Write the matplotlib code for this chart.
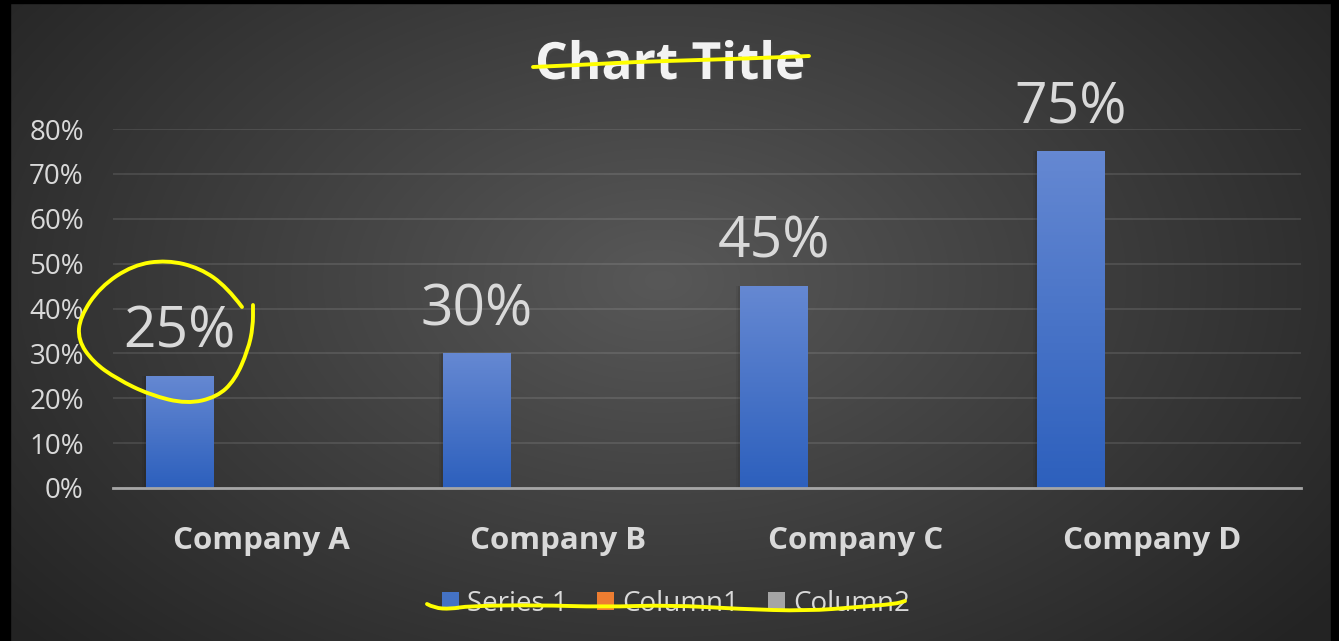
import numpy as np
import matplotlib
matplotlib.use("Agg")
import matplotlib.pyplot as plt
from matplotlib.patches import Rectangle, PathPatch
from matplotlib.path import Path
from matplotlib.colors import LinearSegmentedColormap
import matplotlib.patheffects as pe

# chart data
categories = ["Company A", "Company B", "Company C", "Company D"]
series_1 = [0.25, 0.30, 0.45, 0.75]
column1 = [0, 0, 0, 0]
column2 = [0, 0, 0, 0]
series_names = ["Series 1", "Column1", "Column2"]
y_ticks = [0, 0.1, 0.2, 0.3, 0.4, 0.5, 0.6, 0.7, 0.8]

W, H = 1339, 641
plt.rcParams['font.family'] = ['Open Sans', 'DejaVu Sans']
fig = plt.figure(figsize=(W / 100, H / 100), dpi=100)

# dark radial background
bg = fig.add_axes([0, 0, 1, 1], zorder=-10)
yy, xx = np.mgrid[0:H, 0:W]
d = np.sqrt(((xx - 660) / 820.0) ** 2 + ((yy - 280) / 520.0) ** 2)
shade = np.clip(0.345 - 0.2 * d, 0.14, 1)
bg.imshow(np.dstack([shade] * 3), extent=[0, W, H, 0], aspect='auto')
bg.set_xlim(0, W)
bg.set_ylim(H, 0)
bg.axis('off')
# black frame of the screenshot
bg.add_patch(Rectangle((0, 0), 10, H, color='black'))
bg.add_patch(Rectangle((0, 0), W, 3, color='black'))
bg.add_patch(Rectangle((1331, 0), 8, H, color='black'))

ax = fig.add_axes([113 / W, 1 - 488 / H, 1188 / W, 359 / H])
ax.set_facecolor('none')

x = np.arange(len(categories))
bw = 0.226
off = 0.276
bars = ax.bar(x - off, series_1, bw, color='#4472c4', label=series_names[0], zorder=3)
ax.bar(x, column1, bw, color='#ed7d31', label=series_names[1], zorder=3)
ax.bar(x + off, column2, bw, color='#a5a5a5', label=series_names[2], zorder=3)

grad = LinearSegmentedColormap.from_list('bar', ['#2d60bd', '#6588d2'])
for b in bars:
    x0, y0 = b.get_x(), b.get_y()
    w, h = b.get_width(), b.get_height()
    for k, a in [(0.014, 0.06), (0.008, 0.08)]:
        ax.add_patch(Rectangle((x0 - k, y0), w + k, h, color='black', alpha=a, zorder=2, lw=0))
    im = ax.imshow(np.linspace(0, 1, 100).reshape(-1, 1), cmap=grad, origin='lower',
                   extent=[x0, x0 + w, y0, y0 + h], aspect='auto', zorder=4)
    im.set_clip_path(b)
    ax.text(x0 + w / 2, h + 0.032, f"{h:.0%}", ha='center', va='bottom',
            fontsize=41, color='#d9d9d9', zorder=5, clip_on=False)

ax.set_xlim(-0.5, 3.5)
ax.set_ylim(0, 0.8)
ax.set_yticks(y_ticks)
ax.set_yticklabels([f"{t:.0%}" for t in y_ticks])
ax.set_xticks(x)
ax.set_xticklabels(categories, fontweight='bold')
ax.tick_params(axis='y', length=0, pad=21, labelsize=20, labelcolor='#d9d9d9')
ax.tick_params(axis='x', length=0, pad=27, labelsize=22.5, labelcolor='#d9d9d9')
ax.grid(axis='y', color='white', alpha=0.1, lw=1.5, zorder=0)
for s in ['top', 'right', 'left']:
    ax.spines[s].set_visible(False)
ax.spines['bottom'].set_color('#a6a6a6')
ax.spines['bottom'].set_linewidth(2)
ax.spines['bottom'].set_zorder(6)

fig.text(670 / W, 1 - 66 / H, "Chart Title", ha='center', va='center', fontsize=37,
         fontweight='bold', color='#f2f2f2',
         path_effects=[pe.withSimplePatchShadow(offset=(1.5, -1.5), alpha=0.5)])

fig.legend(loc='center', bbox_to_anchor=(676 / W, 1 - 604 / H), ncol=3, frameon=False,
           fontsize=20, labelcolor='#d9d9d9', handlelength=0.6, handleheight=0.6,
           handletextpad=0.3, columnspacing=1.05)

# yellow pen marks drawn over the screenshot, smoothed with quadratic curves
def pen(pts):
    p = np.array(pts, dtype=float)
    p[:, 0] = p[:, 0] / W
    p[:, 1] = 1 - p[:, 1] / H
    verts = [p[0]]
    codes = [Path.MOVETO]
    for i in range(1, len(p) - 1):
        verts += [p[i], (p[i] + p[i + 1]) / 2]
        codes += [Path.CURVE3, Path.CURVE3]
    verts.append(p[-1])
    codes.append(Path.LINETO)
    fig.add_artist(PathPatch(Path(verts, codes), transform=fig.transFigure, fill=False,
                             edgecolor='#ffff00', lw=2.8, capstyle='round',
                             joinstyle='round', zorder=20))

pen([(533, 67), (580, 65), (633, 62), (700, 60), (760, 58), (809, 56)])
pen([(242, 307), (227, 287), (200, 268), (167, 260), (133, 265), (100, 287), (80, 317),
     (78, 340), (93, 362), (117, 379), (150, 395), (187, 404), (217, 397), (235, 380),
     (248, 350), (253, 327), (253, 305)])
pen([(427, 604), (434, 608), (451, 609), (468, 606), (536, 605), (603, 607), (671, 605),
     (739, 609), (807, 611), (858, 607), (895, 604), (905, 601)])

fig.savefig("out.png", dpi=100)
